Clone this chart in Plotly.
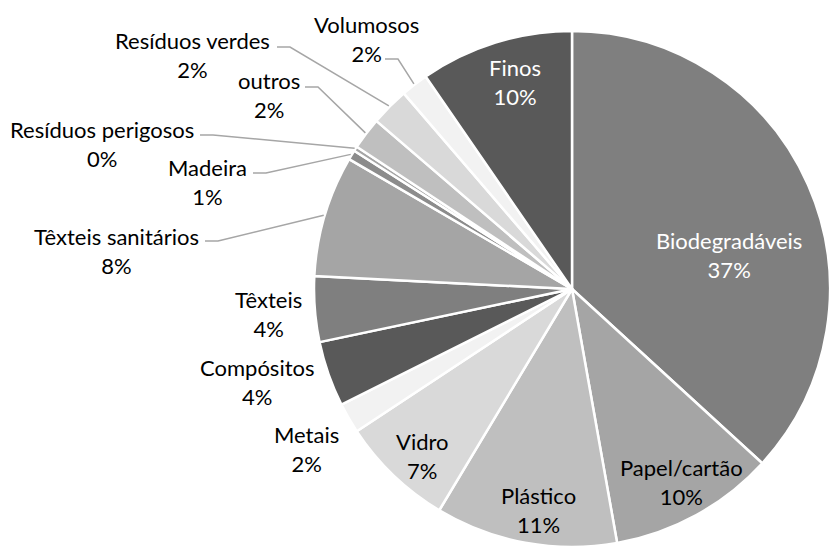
import math
import plotly.graph_objects as go

# Composition of collected waste (share of total mass, %)
categories = ["Biodegradáveis", "Papel/cartão", "Plástico", "Vidro", "Metais",
              "Compósitos", "Têxteis", "Têxteis sanitários", "Madeira",
              "Resíduos perigosos", "outros", "Resíduos verdes", "Volumosos", "Finos"]
shares = [36.8, 10.4, 11.4, 7.1, 1.9, 4.1, 4.1, 7.6, 0.6, 0.3, 2.0, 2.4, 1.7, 9.6]

slice_colors = ["#7f7f7f", "#a5a5a5", "#bfbfbf", "#d9d9d9", "#f2f2f2",
                "#595959", "#7f7f7f", "#a5a5a5", "#8c8c8c", "#a5a5a5",
                "#bfbfbf", "#d9d9d9", "#f2f2f2", "#595959"]

W, H = 830, 547
FONT = "Lato, 'Open Sans', sans-serif"

# pie geometry (pixels): touches left/bottom/right of its domain
R = 258
CX, CY = W - R, H - R

# label placement in pixels: centre of the two-line block, text colour,
# and start of the leader line (None = no leader)
label_layout = {
    "Biodegradáveis": (729, 255, "white", None),
    "Papel/cartão": (681, 482, "black", None),
    "Plástico": (538, 510, "black", None),
    "Vidro": (423, 456, "black", None),
    "Metais": (306, 449, "black", None),
    "Compósitos": (257, 382, "black", None),
    "Têxteis": (268, 314, "black", None),
    "Têxteis sanitários": (116, 251, "black", (205, 241)),
    "Madeira": (207, 182, "black", (253, 173)),
    "Resíduos perigosos": (102, 144, "black", (200, 135)),
    "outros": (269, 95, "black", (305, 87)),
    "Resíduos verdes": (192, 55, "black", (277, 47)),
    "Volumosos": (366, 39, "black", (385, 59)),
    "Finos": (515, 82, "white", None),
}


def px(x):
    return x / W


def py(y):
    return 1 - y / H


fig = go.Figure(go.Pie(
    labels=categories,
    values=shares,
    sort=False,
    direction="clockwise",
    rotation=0,
    marker=dict(colors=slice_colors, line=dict(color="white", width=2.5)),
    textinfo="none",
    hoverinfo="label+percent",
    showlegend=False,
    domain=dict(x=[(CX - R) / W, 1], y=[0, 2 * R / H]),
))

total = sum(shares)
annotations = []
shapes = []
cum = 0.0
for name, v in zip(categories, shares):
    mid = (cum + v / 2) / total * 2 * math.pi
    cum += v
    lx, ly, color, lead = label_layout[name]
    annotations.append(dict(
        x=px(lx), y=py(ly), xref="paper", yref="paper",
        xanchor="center", yanchor="middle", align="center",
        text=f"{name}<br>{v / total:.0%}", showarrow=False,
        font=dict(family=FONT, size=22, color=color),
    ))
    if lead is not None:
        ex = CX + (R + 1) * math.sin(mid)
        ey = CY - (R + 1) * math.cos(mid)
        x0, y0 = lead
        x1 = x0 + 13
        path = (f"M {px(x0)} {py(y0)} L {px(x1)} {py(y0)} "
                f"L {px(ex)} {py(ey)}")
        shapes.append(dict(type="path", xref="paper", yref="paper", path=path,
                           line=dict(color="#a6a6a6", width=1.5)))

fig.update_layout(
    width=W, height=H,
    margin=dict(l=0, r=0, t=0, b=0, pad=0),
    paper_bgcolor="white",
    plot_bgcolor="white",
    font=dict(family=FONT, size=22, color="black"),
    annotations=annotations,
    shapes=shapes,
)

fig.write_html("out.html")
